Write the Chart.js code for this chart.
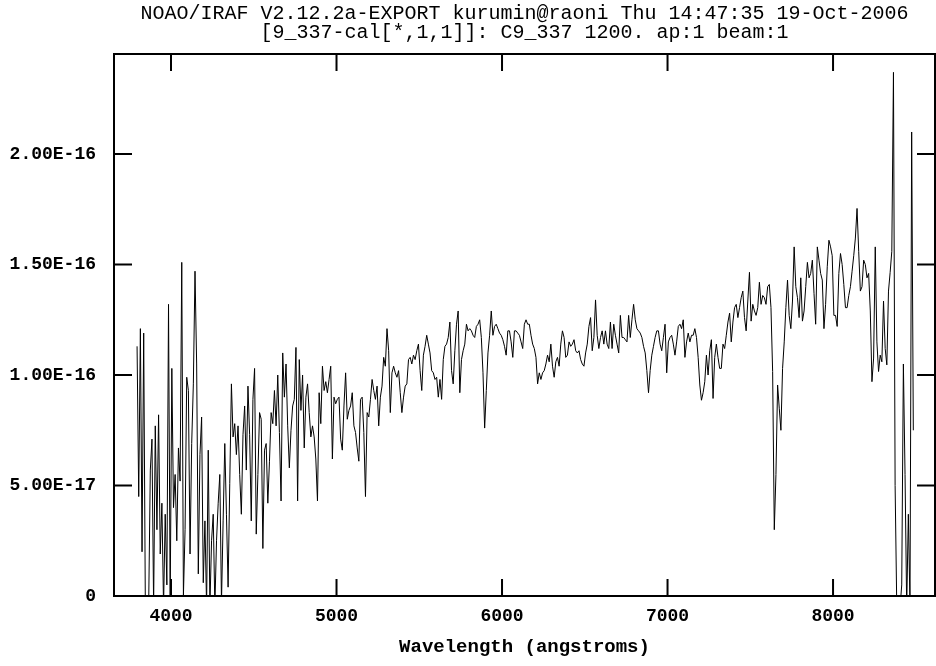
<!DOCTYPE html>
<html>
<head>
<meta charset="utf-8">
<title>9_337 spectrum</title>
<script src="https://cdn.jsdelivr.net/npm/chart.js@4.4.1/dist/chart.umd.min.js"></script>
<style>
  html, body { margin: 0; padding: 0; background: #fff; }
  #spectrum { display: block; }
</style>
</head>
<body>
<canvas id="spectrum" width="936" height="666"></canvas>
<script>
// header lines as IRAF prints them
const titleLines = [
  'NOAO/IRAF V2.12.2a-EXPORT kurumin@raoni Thu 14:47:35 19-Oct-2006',
  '[9_337-cal[*,1,1]]: C9_337 1200. ap:1 beam:1'
];
const xAxisTitle = 'Wavelength (angstroms)';

const xTicks = [4000, 5000, 6000, 7000, 8000];
const yTicks = [0, 5e-17, 1e-16, 1.5e-16, 2e-16];
const yTickLabels = ['0', '5.00E-17', '1.00E-16', '1.50E-16', '2.00E-16'];

// linear dispersion of the extracted spectrum
const lambdaStart = 3795;
const lambdaStep = 10;

// flux, in units of 1E-16, one value per lambdaStep
const flux = [
  1.13, 0.45, 1.21, 0.20, 1.19, -0.05, -0.08, -0.05, 0.57, 0.71,
  -0.05, 0.77, 0.30, 0.82, 0.19, 0.42, -0.05, 0.37, 0.05, 1.32,
  -0.03, 1.03, 0.40, 0.55, 0.25, 0.67, 0.52, 1.51, 0.00, 0.30,
  0.99, 0.93, 0.19, 0.69, 0.96, 1.47, 1.05, 0.10, 0.64, 0.81,
  0.06, 0.34, -0.05, 0.66, -0.05, 0.25, 0.37, -0.05, 0.25, 0.42,
  0.55, -0.03, 0.34, 0.69, 0.37, 0.04, 0.51, 0.96, 0.72, 0.78,
  0.64, 0.77, 0.55, 0.37, 0.73, 0.86, 0.57, 0.95, 0.73, 0.34,
  0.89, 1.03, 0.28, 0.55, 0.83, 0.80, 0.215, 0.66, 0.69, 0.42,
  0.61, 0.83, 0.78, 0.93, 0.77, 1.00, 0.74, 0.43, 1.10, 0.90,
  1.05, 0.77, 0.58, 0.75, 0.86, 0.89, 1.125, 0.43, 1.07, 0.84,
  1.00, 0.67, 0.90, 0.96, 0.83, 0.72, 0.77, 0.72, 0.62, 0.43,
  0.92, 0.78, 1.04, 0.93, 0.97, 0.92, 0.98, 1.04, 0.62, 0.90,
  0.87, 0.89, 0.90, 0.71, 0.66, 0.86, 1.01, 0.80, 0.84, 0.86,
  0.92, 0.77, 0.74, 0.67, 0.61, 0.89, 0.90, 0.74, 0.45, 0.83,
  0.81, 0.89, 0.98, 0.93, 0.89, 0.95, 0.77, 0.90, 0.95, 1.08,
  1.04, 1.21, 1.11, 0.83, 1.01, 1.04, 1.01, 0.99, 1.02, 0.92,
  0.83, 0.90, 0.95, 0.96, 1.07, 1.08, 1.05, 1.09, 1.07, 1.11,
  1.14, 1.02, 0.93, 1.09, 1.13, 1.18, 1.14, 1.10, 1.02, 1.01,
  0.98, 0.99, 0.90, 0.98, 0.89, 1.07, 1.13, 1.14, 1.17, 1.24,
  1.02, 0.96, 1.11, 1.23, 1.29, 0.92, 1.07, 1.11, 1.14, 1.23,
  1.20, 1.21, 1.20, 1.18, 1.17, 1.22, 1.23, 1.25, 1.17, 1.01,
  0.76, 0.93, 1.10, 1.18, 1.29, 1.18, 1.22, 1.23, 1.21, 1.19,
  1.18, 1.16, 1.13, 1.09, 1.20, 1.20, 1.15, 1.08, 1.20, 1.20,
  1.19, 1.18, 1.15, 1.12, 1.23, 1.25, 1.23, 1.23, 1.18, 1.14,
  1.12, 1.08, 0.96, 1.01, 0.98, 1.01, 1.02, 1.05, 1.09, 1.06,
  1.14, 1.04, 0.99, 1.06, 1.08, 1.04, 1.14, 1.20, 1.17, 1.08,
  1.09, 1.15, 1.13, 1.14, 1.16, 1.11, 1.10, 1.11, 1.07, 1.05,
  1.04, 1.10, 1.14, 1.22, 1.26, 1.11, 1.17, 1.34, 1.18, 1.12,
  1.17, 1.20, 1.14, 1.20, 1.14, 1.12, 1.24, 1.12, 1.23, 1.18,
  1.14, 1.10, 1.27, 1.17, 1.17, 1.16, 1.15, 1.27, 1.17, 1.25,
  1.32, 1.25, 1.21, 1.20, 1.19, 1.17, 1.13, 1.10, 1.02, 0.92,
  1.02, 1.09, 1.13, 1.17, 1.20, 1.20, 1.14, 1.11, 1.17, 1.23,
  1.01, 1.15, 1.17, 1.18, 1.14, 1.09, 1.15, 1.22, 1.23, 1.21,
  1.25, 1.08, 1.15, 1.19, 1.15, 1.18, 1.18, 1.21, 1.17, 1.08,
  0.955, 0.886, 0.92, 0.97, 1.09, 1.00, 1.11, 1.16, 0.894, 1.08,
  1.14, 1.08, 1.03, 1.03, 1.14, 1.12, 1.18, 1.24, 1.28, 1.15,
  1.24, 1.305, 1.32, 1.26, 1.305, 1.35, 1.38, 1.26, 1.20, 1.335,
  1.465, 1.244, 1.32, 1.29, 1.27, 1.305, 1.42, 1.32, 1.36, 1.35,
  1.32, 1.40, 1.41, 1.305, 1.016, 0.30, 0.55, 0.955, 0.85, 0.75,
  1.03, 1.15, 1.305, 1.43, 1.27, 1.21, 1.335, 1.58, 1.40, 1.35,
  1.26, 1.44, 1.244, 1.29, 1.40, 1.51, 1.44, 1.46, 1.52, 1.37,
  1.23, 1.58, 1.52, 1.46, 1.43, 1.21, 1.32, 1.49, 1.61, 1.58,
  1.54, 1.27, 1.27, 1.22, 1.46, 1.55, 1.50, 1.41, 1.305, 1.305,
  1.36, 1.40, 1.47, 1.54, 1.62, 1.754, 1.56, 1.38, 1.40, 1.52,
  1.50, 1.44, 1.46, 1.29, 0.97, 1.077, 1.58, 1.15, 1.016, 1.09,
  1.06, 1.335, 1.12, 1.046, 1.38, 1.465, 1.56, 2.37, 0.50, -0.05,
  -0.05, -0.05, 0.05, 1.05, 0.55, -0.05, 0.37, -0.05, 2.10, 0.75
];

const points = flux.map(function (f, i) {
  return { x: lambdaStart + i * lambdaStep, y: f * 1e-16 };
});

const monoFont = 'Liberation Mono';

// box + inward ticks on all four sides, like the IRAF plot frame
const framePlugin = {
  id: 'irafFrame',
  afterDraw(chart) {
    const ctx = chart.ctx;
    const a = chart.chartArea;
    const xs = chart.scales.x;
    const ys = chart.scales.y;
    ctx.save();
    ctx.strokeStyle = '#000';
    ctx.lineWidth = 2;
    ctx.strokeRect(a.left, a.top, a.right - a.left, a.bottom - a.top);
    ctx.beginPath();
    xTicks.forEach(function (v) {
      const px = xs.getPixelForValue(v);
      ctx.moveTo(px, a.bottom);
      ctx.lineTo(px, a.bottom - 17);
      ctx.moveTo(px, a.top);
      ctx.lineTo(px, a.top + 17);
    });
    yTicks.forEach(function (v) {
      const py = ys.getPixelForValue(v);
      ctx.moveTo(a.left, py);
      ctx.lineTo(a.left + 18, py);
      ctx.moveTo(a.right, py);
      ctx.lineTo(a.right - 18, py);
    });
    ctx.stroke();
    ctx.restore();
  }
};

new Chart(document.getElementById('spectrum'), {
  type: 'line',
  data: {
    datasets: [{
      data: points,
      borderColor: '#000',
      borderWidth: 1,
      pointRadius: 0,
      tension: 0,
      fill: false
    }]
  },
  options: {
    responsive: false,
    devicePixelRatio: 1,
    animation: false,
    layout: { padding: { right: 1 } },
    plugins: {
      legend: { display: false },
      tooltip: { enabled: false },
      title: {
        display: true,
        fullSize: false,
        text: titleLines,
        color: '#000',
        font: { family: monoFont, size: 20, weight: 'normal', lineHeight: 0.975 },
        padding: { top: 3.75, bottom: 11.25 }
      }
    },
    scales: {
      x: {
        type: 'linear',
        min: 3655.6,
        max: 8616,
        grid: { display: false, drawTicks: false },
        border: { display: false },
        afterBuildTicks: function (scale) {
          scale.ticks = xTicks.map(function (v) { return { value: v }; });
        },
        afterFit: function (scale) { scale.height = 70; },
        ticks: {
          color: '#000',
          padding: 10,
          maxRotation: 0,
          autoSkip: false,
          font: { family: monoFont, size: 18, weight: 'bold' },
          callback: function (v) { return String(v); }
        },
        title: {
          display: true,
          text: xAxisTitle,
          color: '#000',
          font: { family: monoFont, size: 19, weight: 'bold' },
          padding: { top: 0, bottom: 7 }
        }
      },
      y: {
        type: 'linear',
        min: 0,
        max: 2.453e-16,
        grid: { display: false, drawTicks: false },
        border: { display: false },
        afterBuildTicks: function (scale) {
          scale.ticks = yTicks.map(function (v) { return { value: v }; });
        },
        afterFit: function (scale) { scale.width = 114; },
        ticks: {
          color: '#000',
          padding: 18,
          autoSkip: false,
          font: { family: monoFont, size: 18, weight: 'bold' },
          callback: function (v, i) { return yTickLabels[i]; }
        }
      }
    }
  },
  plugins: [framePlugin]
});
</script>
</body>
</html>
